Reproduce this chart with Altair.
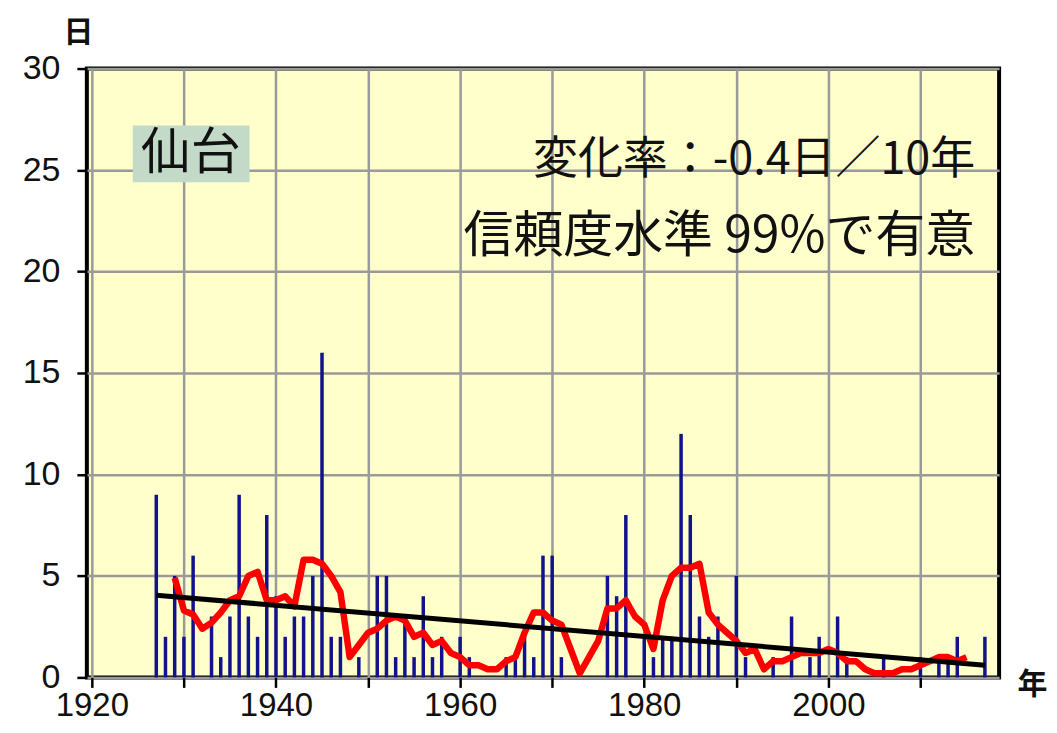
import altair as alt
import pandas as pd

# ---- data ----
years = list(range(1927, 2018))
days = [9, 2, 5, 2, 6, 0, 3, 1, 3, 9,
        3, 2, 8, 4, 2, 3, 3, 5, 16, 2,
        2, 0, 1, 0, 5, 5, 1, 3, 1, 4,
        1, 2, 0, 2, 1, 0, 0, 0, 1, 1,
        2, 1, 6, 6, 1, 0, 0, 0, 0, 5,
        4, 8, 0, 2, 1, 2, 2, 12, 8, 3,
        2, 3, 0, 5, 1, 0, 0, 1, 0, 3,
        0, 1, 2, 0, 3, 1, 0, 0, 0, 1,
        0, 0, 0, 1, 0, 1, 1, 2, 0, 0,
        2]

ma_years = list(range(1929, 2016))
ma_vals = [4.9, 3.3, 3.1, 2.4, 2.7, 3.2, 3.8, 4.0, 5.0, 5.2,
           3.8, 3.8, 4.0, 3.5, 5.8, 5.8, 5.6, 5.0, 4.2, 1.0,
           1.6, 2.2, 2.4, 2.8, 3.0, 2.8, 2.0, 2.2, 1.6, 1.8,
           1.2, 1.0, 0.6, 0.6, 0.4, 0.4, 0.8, 1.0, 2.2, 3.2,
           3.2, 2.8, 2.6, 1.4, 0.2, 1.0, 1.8, 3.4, 3.4, 3.8,
           3.0, 2.6, 1.4, 3.8, 5.0, 5.4, 5.4, 5.6, 3.2, 2.6,
           2.2, 1.8, 1.2, 1.4, 0.4, 0.8, 0.8, 1.0, 1.2, 1.2,
           1.2, 1.4, 1.2, 0.8, 0.8, 0.4, 0.2, 0.2, 0.2, 0.4,
           0.4, 0.6, 0.8, 1.0, 1.0, 0.8, 1.0]

trend_years = [1927, 2017]
trend_vals = [4.05, 0.6]

x_domain = [1920, 2018]
x_ticks = list(range(1920, 2011, 10))
x_labeled = [1920, 1940, 1960, 1980, 2000]
y_ticks = [0, 5, 10, 15, 20, 25, 30]

station = "仙台"
rate_text = "変化率：-0.4日／10年"
sig_text = "信頼度水準 99%で有意"
y_unit = "日"
x_unit = "年"

W, H = 914, 610
LATIN = "Liberation Sans"
CJK = "Noto Sans CJK JP"

bars_df = pd.DataFrame({"year": years, "days": days})
ma_df = pd.DataFrame({"year": ma_years, "days": ma_vals})
trend_df = pd.DataFrame({"year": trend_years, "days": trend_vals})
one = pd.DataFrame({"a": [0]})

x_scale = alt.Scale(domain=x_domain, nice=False, zero=False)
y_scale = alt.Scale(domain=[0, 30], nice=False)

label_test = " || ".join(f"datum.value === {v}" for v in x_labeled)

x_axis = alt.Axis(
    values=x_ticks, format="d",
    labelExpr=f"({label_test}) ? datum.label : ''",
    grid=True, gridColor="#9a9a9a", gridWidth=2.5, gridOpacity=1,
    domain=False, ticks=True, tickColor="#000000", tickWidth=2.5, tickSize=10,
    labelFont=LATIN, labelFontSize=33, labelColor="#111111", labelPadding=2,
    labelFlush=False, labelOverlap=False,
    title=x_unit, titleFont=CJK, titleFontSize=30, titleFontWeight="bold",
    titleColor="#111111", titleAngle=0, titleX=947, titleY=7,
    titleAlign="center", titleBaseline="middle",
)
y_axis = alt.Axis(
    values=y_ticks,
    grid=True, gridColor="#9a9a9a", gridWidth=2.5, gridOpacity=1,
    domain=False, ticks=True, tickColor="#000000", tickWidth=2.5, tickSize=10,
    labelFont=LATIN, labelFontSize=34, labelColor="#111111", labelPadding=17,
    labelFlush=False, labelOverlap=False,
    title=y_unit, titleFont=CJK, titleFontSize=30, titleFontWeight="bold",
    titleColor="#111111", titleAngle=0, titleX=-9, titleY=-36,
    titleAlign="center", titleBaseline="middle",
)

bars = alt.Chart(bars_df).mark_bar(size=3.5, color="#12128c").encode(
    x=alt.X("year:Q", scale=x_scale, axis=x_axis),
    y=alt.Y("days:Q", scale=y_scale, axis=y_axis),
)

ma_line = alt.Chart(ma_df).mark_line(color="#ff0000", strokeWidth=6.5,
                                     strokeJoin="round").encode(
    x=alt.X("year:Q", scale=x_scale),
    y=alt.Y("days:Q", scale=y_scale),
)

trend = alt.Chart(trend_df).mark_line(color="#000000", strokeWidth=5).encode(
    x=alt.X("year:Q", scale=x_scale),
    y=alt.Y("days:Q", scale=y_scale),
)

label_box = alt.Chart(one).mark_rect(color="#c4dac9").encode(
    x=alt.value(46), x2=alt.value(163), y=alt.value(57), y2=alt.value(114)
)
label_station = alt.Chart(one).mark_text(
    text=station, font=CJK, fontSize=50, color="#111111",
    align="center", baseline="middle"
).encode(x=alt.value(104), y=alt.value(86))

label_rate = alt.Chart(one).mark_text(
    text=rate_text, font=CJK, fontSize=45, color="#111111",
    align="right", baseline="middle"
).encode(x=alt.value(890), y=alt.value(92))

label_sig = alt.Chart(one).mark_text(
    text=sig_text, font=CJK, fontSize=50, color="#111111",
    align="right", baseline="middle"
).encode(x=alt.value(890), y=alt.value(169))

chart = alt.layer(
    label_box, bars, ma_line, trend, label_station, label_rate, label_sig
).properties(
    width=W, height=H,
    autosize=alt.AutoSizeParams(type="none"),
    padding={"left": 79, "top": 60, "right": 50, "bottom": 39},
    background="#ffffff",
).configure_view(
    fill="#ffffcc", stroke="#000000", strokeWidth=4
)

chart.save("out.html", embed_options={"renderer": "svg", "actions": False})
